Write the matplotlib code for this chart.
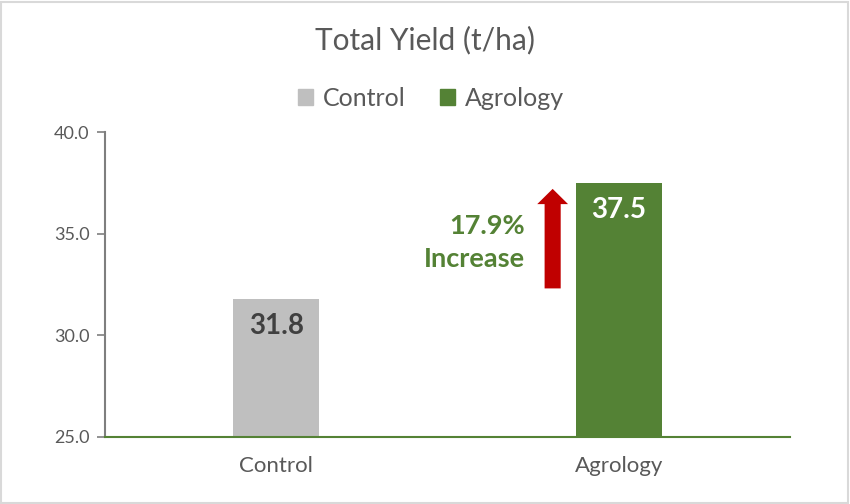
import matplotlib
matplotlib.use('Agg')
import matplotlib.pyplot as plt
from matplotlib.patches import Patch, Rectangle, FancyArrow

plt.rcParams['font.family'] = ['Lato', 'DejaVu Sans']

# data
categories = ['Control', 'Agrology']
yields = [31.8, 37.5]
bar_colors = ['#bfbfbf', '#548235']
label_colors = ['#404040', '#ffffff']
yticks = [25.0, 30.0, 35.0, 40.0]
increase_text = '17.9%\nIncrease'
arrow_from, arrow_to = 32.3, 37.2

fig = plt.figure(figsize=(8.5, 5.04), dpi=100)
ax = fig.add_axes([105 / 850, 1 - 436.7 / 504, 685 / 850, 304.7 / 504])

x = range(len(categories))
bars = ax.bar(x, [v - 25 for v in yields], bottom=25, width=0.25, color=bar_colors)

ax.set_xlim(-0.5, 1.5)
ax.set_ylim(25, 40)
ax.set_yticks(yticks)
ax.set_yticklabels([f'{t:.1f}' for t in yticks])
ax.set_xticks(list(x))
ax.set_xticklabels(categories)

for s in ['top', 'right']:
    ax.spines[s].set_visible(False)
ax.spines['left'].set_color('#7f7f7f')
ax.spines['left'].set_linewidth(1.5)
ax.spines['bottom'].set_color('#548235')
ax.spines['bottom'].set_linewidth(1.5)
ax.tick_params(axis='y', colors='#7f7f7f', labelcolor='#595959', labelsize=13,
               length=6, width=1.2, pad=5)
ax.tick_params(axis='x', length=0, labelcolor='#595959', labelsize=16, pad=14)

# value labels inside the bar tops
for i, v in enumerate(yields):
    ax.annotate(f'{v:.1f}', (i, v), xytext=(0, -27), textcoords='offset pixels',
                ha='center', va='center', fontsize=20, fontweight='bold',
                color=label_colors[i])

# red arrow showing the increase
ax.add_patch(FancyArrow(0.807, arrow_from, 0, arrow_to - arrow_from,
                        width=0.047, head_width=0.09, head_length=0.75,
                        length_includes_head=True, color='#c00000', lw=0))
ax.text(0.727, 34.55, increase_text, ha='right', va='center', fontsize=19.5,
        fontweight='bold', color='#548235', linespacing=1.45)

fig.suptitle('Total Yield (t/ha)', y=1 - 40 / 504, va='center', fontsize=21.5,
             color='#595959')

handles = [Patch(color=c, label=l) for c, l in zip(bar_colors, categories)]
fig.legend(handles=handles, loc='center', bbox_to_anchor=(0.507, 1 - 98 / 504),
           ncol=2, frameon=False, fontsize=18, handlelength=0.6, handleheight=0.6,
           handletextpad=0.4, columnspacing=1.4, labelcolor='#595959')

# light border around the chart
fig.patches.append(Rectangle((0.001, 0.002), 0.997, 0.995, transform=fig.transFigure,
                             fill=False, edgecolor='#d9d9d9', lw=1.5))

fig.savefig('out.png', dpi=100)
